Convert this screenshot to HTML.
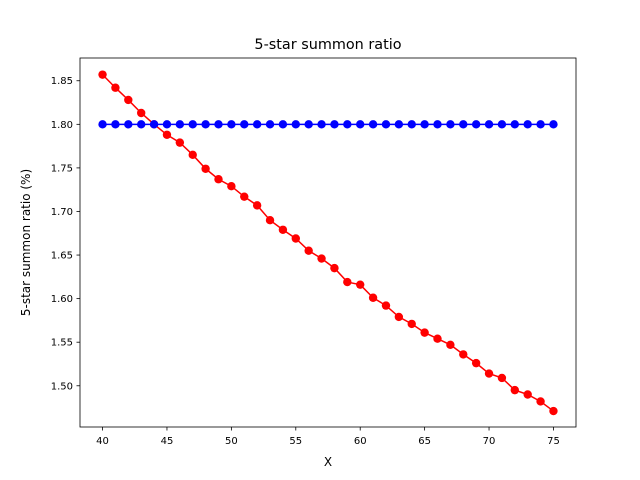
<!DOCTYPE html>
<html><head><meta charset="utf-8"><style>
body{margin:0;background:#fff;}
svg{display:block;font-family:"DejaVu Sans","Liberation Sans",sans-serif;}
</style></head><body>
<svg id="chart" width="640" height="480">
<rect width="640" height="480" fill="#fff"/>
<text x="328" y="49" font-size="14.4" text-anchor="middle">5-star summon ratio</text>
<text x="328" y="466" font-size="12" text-anchor="middle">X</text>
<text transform="translate(30,242.5) rotate(-90)" font-size="12" text-anchor="middle">5-star summon ratio (%)</text>
<g id="plot"></g>
</svg>
<script>
const xValues = [40,41,42,43,44,45,46,47,48,49,50,51,52,53,54,55,56,57,58,59,60,61,62,63,64,65,66,67,68,69,70,71,72,73,74,75];
const redSeries = [1.857,1.842,1.828,1.813,1.800,1.788,1.779,1.765,1.749,1.737,1.729,1.717,1.707,1.690,1.679,1.669,1.655,1.646,1.635,1.619,1.616,1.601,1.592,1.579,1.571,1.561,1.554,1.547,1.536,1.526,1.514,1.509,1.495,1.490,1.482,1.471];
const blueSeries = xValues.map(()=>1.80);
const xTicks = [40,45,50,55,60,65,70,75];
const yTicks = [1.50,1.55,1.60,1.65,1.70,1.75,1.80,1.85];
const yTickLabels = ["1.50","1.55","1.60","1.65","1.70","1.75","1.80","1.85"];

const L=80,R=576,T=58,B=427;
const xMin=38.25,xMax=76.75,yMin=1.4527,yMax=1.8761;
const sx=v=>L+(v-xMin)/(xMax-xMin)*(R-L);
const sy=v=>B-(v-yMin)/(yMax-yMin)*(B-T);
const NS="http://www.w3.org/2000/svg";
const g=document.getElementById('plot');
function mk(t,a){const e=document.createElementNS(NS,t);for(const k in a)e.setAttribute(k,a[k]);g.appendChild(e);return e;}

xTicks.forEach(v=>{
  const l=mk('line',{x1:sx(v),x2:sx(v),y1:B,y2:B+3.5,stroke:'#000','stroke-width':0.8});
  
  
  const t=mk('text',{x:sx(v),y:B+17,'font-size':10,'text-anchor':'middle'});t.textContent=v;
  
  
});
yTicks.forEach((v,i)=>{
  const l=mk('line',{x1:L-3.5,x2:L,y1:sy(v),y2:sy(v),stroke:'#000','stroke-width':0.8});
  
  
  const t=mk('text',{x:L-7,y:sy(v)+3.5,'font-size':10,'text-anchor':'end'});t.textContent=yTickLabels[i];
  
  
});

function series(vals,color,name){
  const p=mk('polyline',{points:xValues.map((x,i)=>sx(x)+','+sy(vals[i])).join(' '),fill:'none',stroke:color,'stroke-width':1.5});
  
  
  xValues.forEach((x,i)=>{
    const c=mk('circle',{cx:sx(x),cy:sy(vals[i]),r:4.2,fill:color});
    
    
  });
}
series(redSeries,'#ff0000','red-series');
series(blueSeries,'#0000ff','blue-series');

const fr=mk('rect',{x:L,y:T,width:R-L,height:B-T,fill:'none',stroke:'#000','stroke-width':0.8});


</script>
</body></html>
